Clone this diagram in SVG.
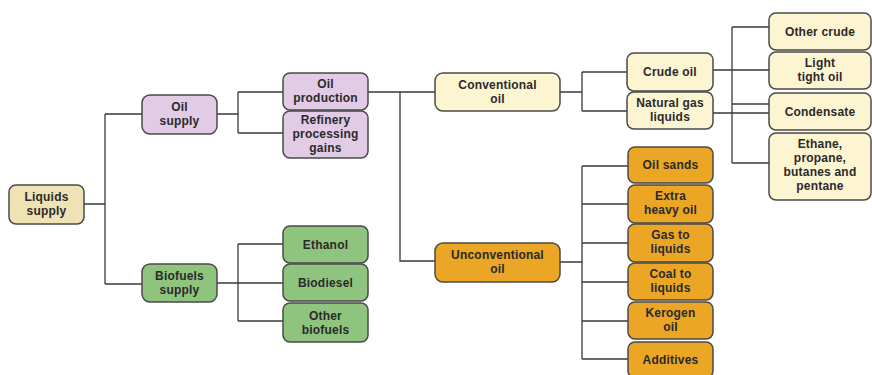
<svg xmlns="http://www.w3.org/2000/svg" width="872" height="375" viewBox="0 0 872 375">
<style>
.n rect{stroke:#4a4a48;stroke-width:1.5}
.tan rect{fill:#efe2b4}
.pur rect{fill:#e1cbe5}
.grn rect{fill:#8fc47e}
.ylw rect{fill:#fdf4d2}
.org rect{fill:#eaa624}
text{font-family:"Liberation Sans",Arial,sans-serif;font-size:12px;font-weight:bold;letter-spacing:0.2px;fill:#2a2a2a;text-anchor:middle}
.c path{fill:none;stroke:#3a3a3a;stroke-width:1.3}
</style>
<rect width="872" height="375" fill="#ffffff"/>
<g class="c" id="connectors">
<path d="M84 204H105M105 114V284M105 114H142M105 284H142"/>
<path d="M217 114H238M238 92V133M238 92H283M238 133H283"/>
<path d="M217 283H283M238 244V321M238 244H283M238 321H283"/>
<path d="M368 92H435M400 92V261H435"/>
<path d="M560 92H582M582 72V111M582 72H627M582 111H627"/>
<path d="M713 70H769M713 113H769M732 27V163M732 27H769M732 104H769M732 163H769"/>
<path d="M560 262H582M582 166V359M582 166H628M582 204H628M582 243H628M582 282H628M582 321H628M582 359H628"/>
</g>
<g id="liquids" class="n tan"><rect x="9" y="185" width="75" height="39" rx="7"/><text x="46.5" y="201">Liquids</text><text x="46.5" y="215">supply</text></g>
<g id="oilsupply" class="n pur"><rect x="142" y="95" width="75" height="39" rx="8"/><text x="179.5" y="111">Oil</text><text x="179.5" y="125">supply</text></g>
<g id="biofuels" class="n grn"><rect x="142" y="264" width="75" height="38" rx="8"/><text x="179.5" y="280">Biofuels</text><text x="179.5" y="294">supply</text></g>
<g id="oilprod" class="n pur"><rect x="283" y="73" width="85" height="37" rx="7"/><text x="325.5" y="88">Oil</text><text x="325.5" y="102">production</text></g>
<g id="refinery" class="n pur"><rect x="283" y="111" width="85" height="47" rx="7"/><text x="325.5" y="124">Refinery</text><text x="325.5" y="138">processing</text><text x="325.5" y="152">gains</text></g>
<g id="ethanol" class="n grn"><rect x="283" y="226" width="85" height="37" rx="7"/><text x="325.5" y="249">Ethanol</text></g>
<g id="biodiesel" class="n grn"><rect x="283" y="264" width="85" height="37" rx="7"/><text x="325.5" y="287">Biodiesel</text></g>
<g id="otherbio" class="n grn"><rect x="283" y="303" width="85" height="39" rx="7"/><text x="325.5" y="320">Other</text><text x="325.5" y="334">biofuels</text></g>
<g id="conventional" class="n ylw"><rect x="435" y="73" width="125" height="38" rx="8"/><text x="497.5" y="89">Conventional</text><text x="497.5" y="103">oil</text></g>
<g id="unconventional" class="n org"><rect x="435" y="243" width="125" height="39" rx="8"/><text x="497.5" y="259">Unconventional</text><text x="497.5" y="273">oil</text></g>
<g id="crude" class="n ylw"><rect x="627" y="53" width="86" height="38" rx="7"/><text x="670" y="76">Crude oil</text></g>
<g id="ngl" class="n ylw"><rect x="627" y="92" width="86" height="37" rx="7"/><text x="670" y="107" letter-spacing="0">Natural gas</text><text x="670" y="121">liquids</text></g>
<g id="othercrude" class="n ylw"><rect x="769" y="13" width="102" height="37" rx="7"/><text x="820" y="36">Other crude</text></g>
<g id="lighttight" class="n ylw"><rect x="769" y="52" width="102" height="37" rx="7"/><text x="820" y="67">Light</text><text x="820" y="81">tight oil</text></g>
<g id="condensate" class="n ylw"><rect x="769" y="93" width="102" height="37" rx="7"/><text x="820" y="116">Condensate</text></g>
<g id="ethane" class="n ylw"><rect x="769" y="133" width="102" height="67" rx="7"/><text x="820" y="148">Ethane,</text><text x="820" y="162">propane,</text><text x="820" y="176">butanes and</text><text x="820" y="190">pentane</text></g>
<g id="oilsands" class="n org"><rect x="628" y="147" width="85" height="36" rx="7"/><text x="670.5" y="169">Oil sands</text></g>
<g id="extraheavy" class="n org"><rect x="628" y="185" width="85" height="38" rx="7"/><text x="670.5" y="200">Extra</text><text x="670.5" y="214">heavy oil</text></g>
<g id="gtl" class="n org"><rect x="628" y="224" width="85" height="38" rx="7"/><text x="670.5" y="239">Gas to</text><text x="670.5" y="253">liquids</text></g>
<g id="ctl" class="n org"><rect x="628" y="263" width="85" height="37" rx="7"/><text x="670.5" y="278">Coal to</text><text x="670.5" y="292">liquids</text></g>
<g id="kerogen" class="n org"><rect x="628" y="302" width="85" height="37" rx="7"/><text x="670.5" y="317">Kerogen</text><text x="670.5" y="331">oil</text></g>
<g id="additives" class="n org"><rect x="628" y="342" width="85" height="36" rx="7"/><text x="670.5" y="364">Additives</text></g>
</svg>
